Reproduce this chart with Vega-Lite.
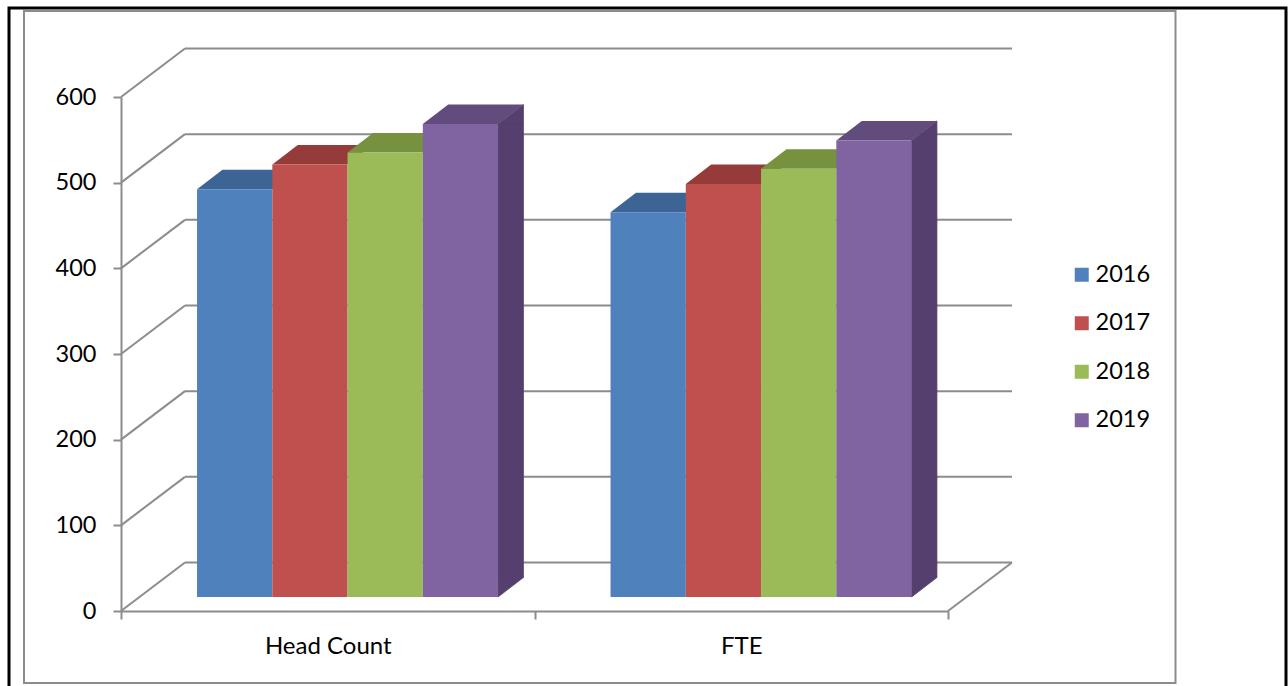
{
"$schema":"https://vega.github.io/schema/vega-lite/v6.json",
"width":827,"height":514,
"autosize":{"type":"none"},
"padding":{"left":121,"top":97,"right":340,"bottom":75},
"background":"white",
"view":{"stroke":null},
"config":{"font":"Lato"},
"datasets":{
"bars":[
{"measure":"Head Count","year":"2016","value":476},
{"measure":"Head Count","year":"2017","value":505},
{"measure":"Head Count","year":"2018","value":519},
{"measure":"Head Count","year":"2019","value":552},
{"measure":"FTE","year":"2016","value":449},
{"measure":"FTE","year":"2017","value":482},
{"measure":"FTE","year":"2018","value":500},
{"measure":"FTE","year":"2019","value":533}
],
"ticks":[{"tick":0},{"tick":100},{"tick":200},{"tick":300},{"tick":400},{"tick":500},{"tick":600}]
},
"layer":[
{"data":{"values":[{"frame":"outer"}]},
 "mark":{"type":"rect","fill":null,"stroke":"#000000","strokeWidth":3,"clip":false},
 "encoding":{"x":{"value":-112},"x2":{"value":1165},"y":{"value":-89},"y2":{"value":620}}},
{"data":{"values":[{"frame":"inner"}]},
 "mark":{"type":"rect","fill":null,"stroke":"#8c8c8c","strokeWidth":2,"clip":false},
 "encoding":{"x":{"value":-97},"x2":{"value":1054.5},"y":{"value":-86},"y2":{"value":586}}},
{"data":{"name":"ticks"},
 "mark":{"type":"rule","stroke":"#8c8c8c","strokeWidth":2,"xOffset":64,"x2Offset":64,"yOffset":-48.5},
 "encoding":{"x":{"datum":0,"type":"quantitative","scale":{"domain":[0,1]},"axis":null},"x2":{"datum":1},
  "y":{"field":"tick","type":"quantitative","scale":{"domain":[0,600]},"axis":{"title":null,"values":[0,100,200,300,400,500,600],"grid":false,"domainColor":"#8c8c8c","domainWidth":2,"tickColor":"#8c8c8c","tickWidth":2,"tickSize":8,"labelFontSize":23.5,"labelColor":"#000000","labelPadding":17,"labelFont":"Lato"}}}},
{"data":{"name":"ticks"},
 "mark":{"type":"rule","stroke":"#8c8c8c","strokeWidth":2,"x2Offset":64,"y2Offset":-48.5},
 "encoding":{"x":{"datum":0,"type":"quantitative","scale":{"domain":[0,1]},"axis":null},"x2":{"datum":0},
  "y":{"field":"tick","type":"quantitative"},"y2":{"field":"tick"}}},
{"data":{"values":[{"tick":0}]},
 "mark":{"type":"rule","stroke":"#8c8c8c","strokeWidth":2,"x2Offset":64,"y2Offset":-48.5},
 "encoding":{"x":{"datum":1,"type":"quantitative","scale":{"domain":[0,1]},"axis":null},"x2":{"datum":1},
  "y":{"field":"tick","type":"quantitative"},"y2":{"field":"tick"}}},
{"data":{"name":"bars"},
 "mark":{"type":"tick","opacity":0},
 "encoding":{
  "x":{"field":"measure","type":"nominal","scale":{"type":"band","domain":["Head Count","FTE"],"paddingInner":0,"paddingOuter":0},
   "axis":{"title":null,"labelAngle":0,"tickBand":"extent","grid":false,"domainColor":"#8c8c8c","domainWidth":2,"tickColor":"#8c8c8c","tickWidth":2,"tickSize":8,"labelFontSize":24,"labelColor":"#000000","labelPadding":15,"labelFont":"Lato"}},
  "y":{"datum":0,"type":"quantitative"}}},
{"data":{"name":"bars"},
 "transform":[{"filter":"datum.year==='2019'"}],
 "mark":{"type":"bar","fill":"#553f6e","stroke":"#553f6e","strokeWidth":0.8,"opacity":1,"width":25.4,"yOffset":-14,"y2Offset":-33.5},
 "encoding":{
  "x":{"field":"measure","type":"nominal","scale":{"type":"band","domain":["Head Count","FTE"],"paddingInner":0.272,"paddingOuter":0.136,"range":[70.1,897.1]},"axis":null},
  "xOffset":{"field":"year","type":"nominal","scale":{"domain":["2016","2017","2018","2019"]}},
  "y":{"field":"value","type":"quantitative"},"y2":{"datum":0}}},
{"data":{"name":"bars"},
 "transform":[{"filter":"datum.year==='2019'"}],
 "mark":{"type":"point","filled":true,"fill":"#553f6e","stroke":"#553f6e","opacity":1,"strokeWidth":0.8,"size":4,"shape":"M37.6,0 L63,-19.5 L63,0 Z","yOffset":-14},
 "encoding":{
  "x":{"field":"measure","type":"nominal","scale":{"type":"band","domain":["Head Count","FTE"],"paddingInner":0.272,"paddingOuter":0.136,"range":[19.8,846.8]},"axis":null},
  "xOffset":{"field":"year","type":"nominal","scale":{"domain":["2016","2017","2018","2019"]}},
  "y":{"field":"value","type":"quantitative"}}},
{"data":{"name":"bars"},
 "transform":[{"filter":"datum.year==='2019'"}],
 "mark":{"type":"point","filled":true,"fill":"#553f6e","stroke":"#553f6e","opacity":1,"strokeWidth":0.8,"size":4,"shape":"M37.6,0 L63,-19.5 L37.6,-19.5 Z","yOffset":-14},
 "encoding":{
  "x":{"field":"measure","type":"nominal","scale":{"type":"band","domain":["Head Count","FTE"],"paddingInner":0.272,"paddingOuter":0.136,"range":[19.8,846.8]},"axis":null},
  "xOffset":{"field":"year","type":"nominal","scale":{"domain":["2016","2017","2018","2019"]}},
  "y":{"datum":0,"type":"quantitative"}}},
{"data":{"name":"bars"},
 "mark":{"type":"point","filled":true,"opacity":1,"strokeWidth":0,"size":4,"shape":"M-37.6,0 L37.6,0 L63,-19.5 L-12.2,-19.5 Z","yOffset":-14},
 "encoding":{
  "x":{"field":"measure","type":"nominal","scale":{"type":"band","domain":["Head Count","FTE"],"paddingInner":0.272,"paddingOuter":0.136,"range":[19.8,846.8]},"axis":null},
  "xOffset":{"field":"year","type":"nominal","scale":{"domain":["2016","2017","2018","2019"]}},
  "y":{"field":"value","type":"quantitative"},
  "fill":{"field":"year","type":"nominal","scale":{"domain":["2016","2017","2018","2019"],"range":["#3c6494","#953c3a","#77923f","#624c7e"]},"legend":null}}},
{"data":{"name":"bars"},
 "mark":{"type":"bar","yOffset":-14,"y2Offset":-14},
 "encoding":{
  "x":{"field":"measure","type":"nominal","scale":{"type":"band","domain":["Head Count","FTE"],"paddingInner":0.272,"paddingOuter":0.136,"range":[19.8,846.8]},"axis":null},
  "xOffset":{"field":"year","type":"nominal","scale":{"domain":["2016","2017","2018","2019"]}},
  "y":{"field":"value","type":"quantitative"},"y2":{"datum":0},
  "color":{"field":"year","type":"nominal","scale":{"domain":["2016","2017","2018","2019"],"range":["#4f81bd","#c0504d","#9bbb59","#8064a2"]},
   "legend":{"orient":"none","legendX":949,"legendY":166,"title":null,"symbolType":"square","symbolSize":196,"symbolStrokeWidth":0,"symbolOpacity":1,"labelFontSize":23.5,"labelColor":"#000000","labelFont":"Lato","labelOffset":2,"rowPadding":23.5}}}}
],
"resolve":{"scale":{"x":"independent","color":"independent","fill":"independent"}}
}
